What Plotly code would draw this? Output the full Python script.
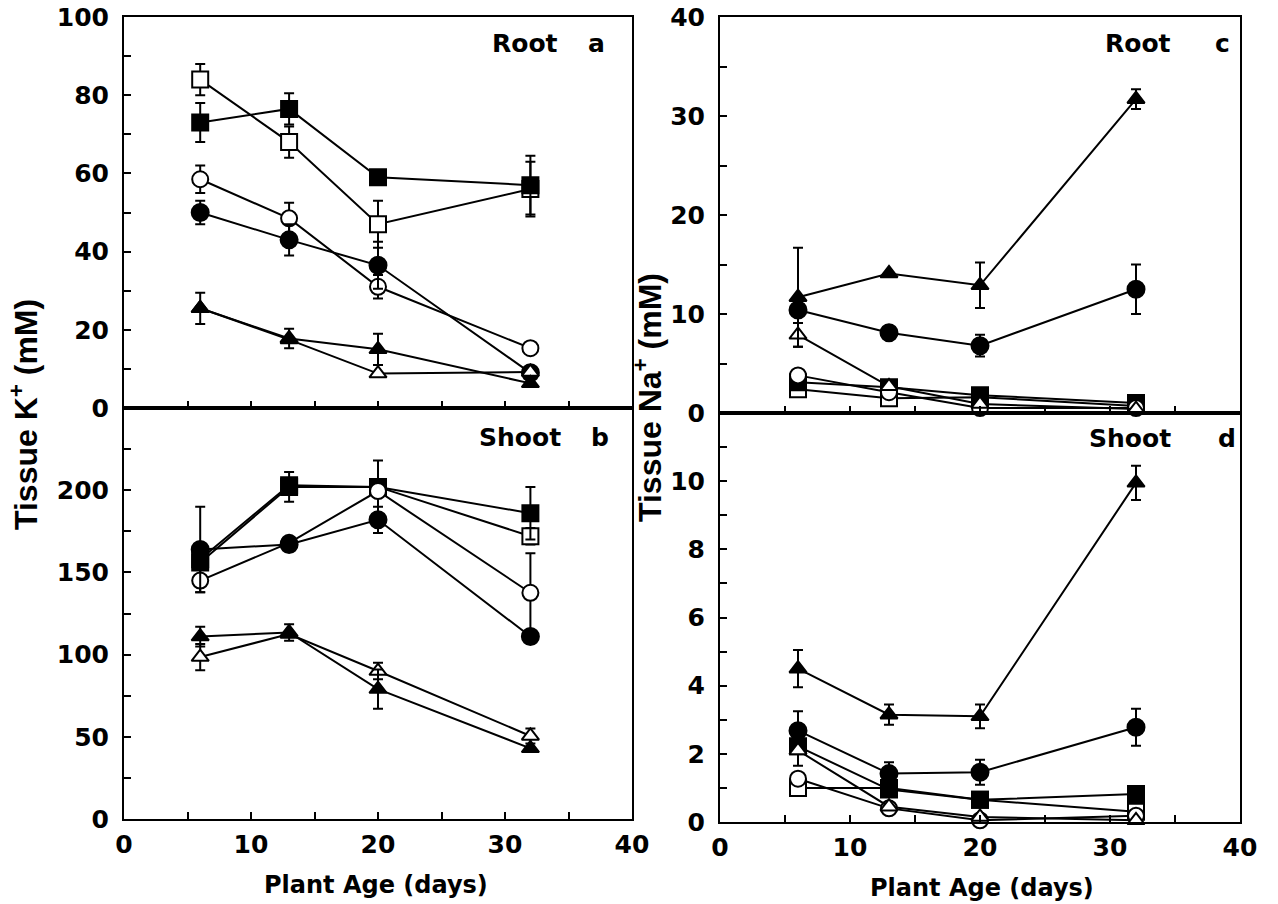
import plotly.graph_objects as go

W, H = 1278, 904

# ---------------- data ----------------
days = [6, 13, 20, 32]

# Panel a: Root K+ (mM)
a_open_sq = [84, 68, 47, 56]
a_open_sq_err = [4, 4, 6, 7]
a_fill_sq = [73, 76.5, 59, 57]
a_fill_sq_err = [5, 4, 1.5, 7.5]
a_open_ci = [58.5, 48.5, 31, 15.3]
a_open_ci_err = [3.5, 4, 3, None]
a_fill_ci = [50, 43, 36.5, 9]
a_fill_ci_err = [3, 4, 6, None]
a_open_tr = [25.5, 17.5, 8.8, 9.2]
a_open_tr_err = [None, None, None, None]
a_fill_tr = [25.5, 17.8, 15, 6.3]
a_fill_tr_err = [4, 2.5, 4, None]

# Panel b: Shoot K+ (mM)
b_open_sq = [158, 203, 202, 172]
b_open_sq_err = [None, None, None, 5]
b_fill_sq = [156, 202, 202, 186]
b_fill_sq_err = [None, 9, 16, 16]
b_open_ci = [145, 168, 199.5, 137.6]
b_open_ci_err = [7, None, None, 24]
b_fill_ci = [164, 167, 182, 111]
b_fill_ci_err = [26, 4, 8, 4]
b_open_tr = [98.5, 112.5, 90, 50.5]
b_open_tr_err = [8, None, 5, 4.5]
b_fill_tr = [111, 113.5, 79, 43]
b_fill_tr_err = [6, 5, 12, None]

# Panel c: Root Na+ (mM)
c_open_sq = [2.4, 1.5, 1.6, 0.7]
c_open_sq_err = [None, None, None, None]
c_fill_sq = [3.1, 2.6, 1.8, 1.0]
c_fill_sq_err = [None, None, None, None]
c_open_ci = [3.8, 2.1, 0.5, 0.5]
c_open_ci_err = [None, None, None, None]
c_fill_ci = [10.4, 8.1, 6.8, 12.5]
c_fill_ci_err = [None, None, 1.1, 2.5]
c_open_tr = [7.9, 2.7, 0.9, 0.4]
c_open_tr_err = [1.2, None, None, None]
c_fill_tr = [11.7, 14.1, 12.9, 31.7]
c_fill_tr_err = [5, None, 2.3, 1]

# Panel d: Shoot Na+ (mM)
d_open_sq = [1.0, 1.0, 0.65, 0.3]
d_open_sq_err = [None, None, None, None]
d_fill_sq = [2.22, 0.95, 0.65, 0.82]
d_fill_sq_err = [None, None, None, None]
d_open_ci = [1.27, 0.4, 0.05, 0.18]
d_open_ci_err = [None, None, None, None]
d_fill_ci = [2.68, 1.42, 1.46, 2.78]
d_fill_ci_err = [0.57, 0.33, 0.37, 0.54]
d_open_tr = [2.1, 0.45, 0.15, 0.05]
d_open_tr_err = [0.45, None, None, None]
d_fill_tr = [4.5, 3.15, 3.1, 9.95]
d_fill_tr_err = [0.55, 0.3, 0.35, 0.5]

x_ticks = [0, 10, 20, 30, 40]
a_ticks = [0, 20, 40, 60, 80, 100]
b_ticks = [0, 50, 100, 150, 200]
c_ticks = [0, 10, 20, 30, 40]
d_ticks = [0, 2, 4, 6, 8, 10]

# ---------------- figure ----------------
fig = go.Figure()

def px_x(p):
    return p / W

def px_y(p):
    return 1 - p / H

LEFT = [px_x(124), px_x(632)]
RIGHT = [px_x(720), px_x(1240)]
A_DOM = [px_y(408), px_y(17)]
B_DOM = [px_y(819), px_y(408)]
C_DOM = [px_y(413), px_y(17)]
D_DOM = [px_y(822), px_y(413)]

styles = {
    "open_sq": dict(symbol="square", color="white", size=16),
    "fill_sq": dict(symbol="square", color="black", size=16),
    "open_ci": dict(symbol="circle", color="white", size=16),
    "fill_ci": dict(symbol="circle", color="black", size=17),
    "open_tr": dict(symbol="triangle-up", color="white", size=15),
    "fill_tr": dict(symbol="triangle-up", color="black", size=15),
}

panels = [
    ("x", "y", {
        "open_sq": (a_open_sq, a_open_sq_err), "fill_sq": (a_fill_sq, a_fill_sq_err),
        "open_ci": (a_open_ci, a_open_ci_err), "fill_ci": (a_fill_ci, a_fill_ci_err),
        "open_tr": (a_open_tr, a_open_tr_err), "fill_tr": (a_fill_tr, a_fill_tr_err)}),
    ("x2", "y2", {
        "open_sq": (b_open_sq, b_open_sq_err), "fill_sq": (b_fill_sq, b_fill_sq_err),
        "open_ci": (b_open_ci, b_open_ci_err), "fill_ci": (b_fill_ci, b_fill_ci_err),
        "open_tr": (b_open_tr, b_open_tr_err), "fill_tr": (b_fill_tr, b_fill_tr_err)}),
    ("x3", "y3", {
        "open_sq": (c_open_sq, c_open_sq_err), "fill_sq": (c_fill_sq, c_fill_sq_err),
        "open_ci": (c_open_ci, c_open_ci_err), "fill_ci": (c_fill_ci, c_fill_ci_err),
        "open_tr": (c_open_tr, c_open_tr_err), "fill_tr": (c_fill_tr, c_fill_tr_err)}),
    ("x4", "y4", {
        "open_sq": (d_open_sq, d_open_sq_err), "fill_sq": (d_fill_sq, d_fill_sq_err),
        "open_ci": (d_open_ci, d_open_ci_err), "fill_ci": (d_fill_ci, d_fill_ci_err),
        "open_tr": (d_open_tr, d_open_tr_err), "fill_tr": (d_fill_tr, d_fill_tr_err)}),
]

order = ["open_sq", "fill_sq", "open_ci", "fill_ci", "open_tr", "fill_tr"]
for xa, ya, series in panels:
    for key in order:
        vals, errs = series[key]
        st = styles[key]
        fig.add_trace(go.Scatter(
            x=days, y=vals, xaxis=xa, yaxis=ya,
            mode="lines+markers",
            line=dict(color="black", width=2),
            marker=dict(symbol=st["symbol"], size=st["size"], color=st["color"],
                        line=dict(color="black", width=2)),
            error_y=dict(type="data", array=errs, symmetric=True, color="black",
                         thickness=2, width=5),
            cliponaxis=False, showlegend=False, hoverinfo="skip",
        ))

tickfont = dict(family="DejaVu Sans", size=25, color="black", weight="bold")

def xaxis(domain, anchor, labels):
    return dict(domain=domain, anchor=anchor, range=[0, 40], automargin=False,
                showline=True, linecolor="black", linewidth=2, mirror=True,
                ticks="inside", ticklen=7, tickwidth=2, tickcolor="black",
                tickmode="array", tickvals=x_ticks, ticktext=[str(v) for v in x_ticks],
                minor=dict(tickmode="linear", tick0=0, dtick=5, ticks="inside",
                           ticklen=7, tickwidth=2, tickcolor="black", showgrid=False),
                showticklabels=labels, tickfont=tickfont, ticklabelstandoff=2,
                showgrid=False, zeroline=False, fixedrange=True)

def yaxis(domain, anchor, rng, vals, minor):
    return dict(domain=domain, anchor=anchor, range=rng, automargin=False,
                showline=True, linecolor="black", linewidth=2, mirror=True,
                ticks="inside", ticklen=7, tickwidth=2, tickcolor="black",
                tickmode="array", tickvals=vals, ticktext=[str(v) for v in vals],
                minor=dict(tickmode="linear", tick0=0, dtick=minor, ticks="inside",
                           ticklen=7, tickwidth=2, tickcolor="black", showgrid=False),
                tickfont=tickfont, ticklabelstandoff=8,
                showgrid=False, zeroline=False, fixedrange=True)

fig.update_layout(
    width=W, height=H, autosize=False,
    margin=dict(l=0, r=0, t=0, b=0, pad=0),
    paper_bgcolor="white", plot_bgcolor="white",
    xaxis=xaxis(LEFT, "y", False),
    xaxis2=xaxis(LEFT, "y2", True),
    xaxis3=xaxis(RIGHT, "y3", False),
    xaxis4=xaxis(RIGHT, "y4", True),
    yaxis=yaxis(A_DOM, "x", [0, 100], a_ticks, 10),
    yaxis2=yaxis(B_DOM, "x2", [0, 250], b_ticks, 25),
    yaxis3=yaxis(C_DOM, "x3", [0, 40], c_ticks, 5),
    yaxis4=yaxis(D_DOM, "x4", [0, 12], d_ticks, 1),
)

lab_font = dict(family="DejaVu Sans", size=25, color="black", weight="bold")
title_font = dict(family="DejaVu Sans", size=24, color="black", weight="bold")
ytitle_font = dict(family="Liberation Sans", size=32, color="black", weight="bold")

def ann(text, x, y, font, xanchor="center", yanchor="middle", angle=0):
    fig.add_annotation(text=text, x=px_x(x), y=px_y(y), xref="paper", yref="paper",
                       showarrow=False, font=font, xanchor=xanchor, yanchor=yanchor,
                       textangle=angle)

ann("Root", 560, 43, lab_font, xanchor="right")
ann("a", 596, 43, lab_font)
ann("Shoot", 563, 437, lab_font, xanchor="right")
ann("b", 600, 437, lab_font)
ann("Root", 1173, 43, lab_font, xanchor="right")
ann("c", 1222, 43, lab_font)
ann("Shoot", 1173, 438, lab_font, xanchor="right")
ann("d", 1227, 438, lab_font)

ann("Plant Age (days)", 376, 885, title_font)
ann("Plant Age (days)", 982, 888, title_font)
ann("Tissue K<sup>+</sup> (mM)", 24, 415, ytitle_font, angle=-90)
ann("Tissue Na<sup>+</sup> (mM)", 648, 398, ytitle_font, angle=-90)

fig.write_html("out.html")
